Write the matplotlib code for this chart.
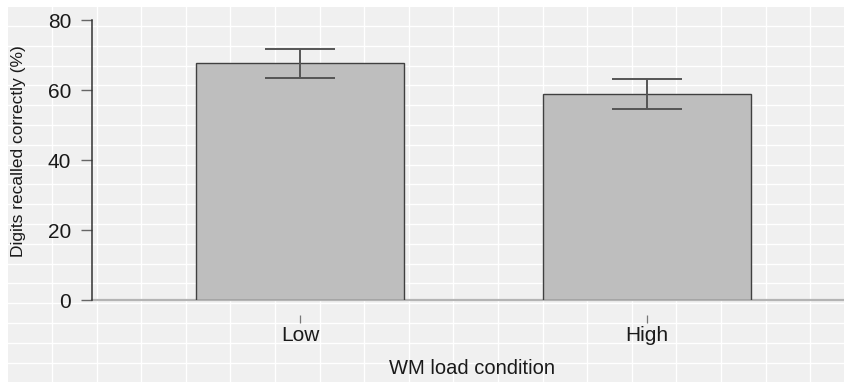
import numpy as np
import matplotlib.pyplot as plt
from matplotlib.lines import Line2D
from matplotlib.patches import Rectangle

conditions = ['Low', 'High']
recall_pct = [67.6, 58.9]
recall_se = [4.2, 4.2]
y_ticks = [0, 20, 40, 60, 80]

plt.rcParams['font.family'] = ['Liberation Sans', 'DejaVu Sans']

W, H = 844, 382
fig = plt.figure(figsize=(W / 100, H / 100), dpi=100)
fig.patch.set_facecolor('white')

# grey paper-like background with white grid
fig.add_artist(Rectangle((8 / W, 0), 1, (H - 7) / H, transform=fig.transFigure,
                         facecolor='#f0f0f0', edgecolor='none', zorder=-10))
for gx in np.arange(52, W, 44.6):
    fig.add_artist(Line2D([gx / W, gx / W], [0, (H - 7) / H], transform=fig.transFigure,
                          color='white', lw=1, zorder=-9))
for gy in np.arange(26, H, 19.8):
    fig.add_artist(Line2D([8 / W, 1], [1 - gy / H, 1 - gy / H], transform=fig.transFigure,
                          color='white', lw=1, zorder=-9))

ax = fig.add_axes([92 / W, 1 - 300 / H, 1 - 92 / W, 280 / H])
ax.set_facecolor('none')

x = np.arange(len(conditions))
ax.axhline(0, color='#b4b4b4', lw=1.6, clip_on=False, zorder=1)
ax.bar(x, recall_pct, width=0.6, color='#bebebe', edgecolor='#404040', lw=1, zorder=2)
ax.errorbar(x, recall_pct, yerr=recall_se, fmt='none', ecolor='#555555',
            elinewidth=1.4, capsize=25, capthick=1.4, zorder=3)

ax.set_xlim(-0.6, (W - 300) / 347)
ax.set_ylim(0, 80)
ax.set_yticks(y_ticks)
ax.set_xticks(x)
ax.set_xticklabels(conditions)

ax.spines['top'].set_visible(False)
ax.spines['right'].set_visible(False)
ax.spines['left'].set_color('#333333')
ax.spines['left'].set_linewidth(1.1)
ax.spines['bottom'].set_position(('outward', 11))
ax.spines['bottom'].set_visible(False)

ax.tick_params(axis='y', length=8, width=1, color='#666666', pad=7,
               labelsize=15, labelcolor='#1a1a1a')
ax.tick_params(axis='x', length=5.5, width=0.9, color='#777777', pad=2.5,
               labelsize=15, labelcolor='#1a1a1a')

fig.text(19 / W, 1 - 151 / H, 'Digits recalled correctly (%)', rotation=90,
         ha='center', va='center', fontsize=12.5, color='#1a1a1a')
fig.text(472 / W, 1 - 368 / H, 'WM load condition', ha='center', va='center',
         fontsize=14.5, color='#1a1a1a')

fig.savefig('out.png', dpi=100)
